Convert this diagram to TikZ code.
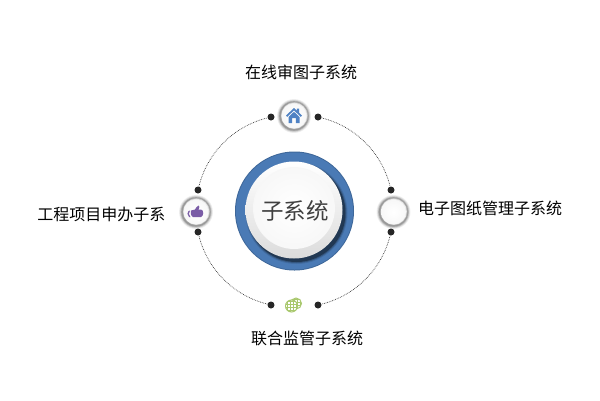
\documentclass[tikz,border=0pt]{standalone}
\usepackage{fontspec}
\setmainfont{Noto Sans CJK SC}
\definecolor{ringblue}{HTML}{4A7AB5}
\definecolor{homeblue}{HTML}{4F82C4}
\definecolor{thumbp}{HTML}{7A5CA6}
\definecolor{globeg}{HTML}{A9C86E}
\tikzset{
  lbl/.style={inner sep=0pt,font=\fontsize{16}{17}\selectfont,text=black},
  dot/.style={circle,fill=black!85,minimum size=7pt,inner sep=0pt},
  link/.style={densely dotted,draw=black!80,line width=.7pt},
  hub/.style={circle,minimum size=27pt,inner sep=0pt},
}
\newcommand{\halo}[2]{%
  \fill[black!6] (#1,#2) circle[radius=17];
  \fill[black!14] (#1,#2) circle[radius=16.2];
  \fill[black!28] (#1,#2) circle[radius=15.4];
  \fill[black!40] (#1,#2) circle[radius=14.6];
  \fill[black!30] (#1+.4,#2-.4) circle[radius=13.6];
  \fill[black!8] (#1+.3,#2-.3) circle[radius=13];
  \shade[inner color=white,outer color=black!3] (#1,#2) circle[radius=12.4];
}
\begin{document}
\begin{tikzpicture}[x=1pt,y=-1pt]
\useasboundingbox (0,0) rectangle (600,400);
% centre
\fill[ringblue!85!black] (294.5,211) circle[radius=59.5];
\fill[ringblue] (294.5,211) circle[radius=58.5];
\foreach \r/\o in {51/.1,50/.2,49/.35}{
  \fill[black,opacity=\o] (296.5,213) circle[radius=\r];
}
\shade[top color=white,bottom color=black!14] (294,210) circle[radius=48.5];
\shade[inner color=white,outer color=white!97!black] (294,208) circle[radius=41];
\node[inner sep=0pt,font=\fontsize{22.5}{24}\selectfont,text=black!75] (centre) at (295,211) {子系统};
% hubs
\halo{294}{116}
\halo{196}{212}
\halo{393.5}{212}
\node[hub] (top) at (294,116) {};
\node[hub] (left) at (196,212) {};
\node[hub] (right) at (393.5,212) {};
\node[hub] (bottom) at (293,305) {};
% dots
\node[dot] (t1) at (271,117) {};
\node[dot] (t2) at (318,117) {};
\node[dot] (r1) at (391,190) {};
\node[dot] (r2) at (391,232) {};
\node[dot] (b2) at (318,305) {};
\node[dot] (b1) at (271,305) {};
\node[dot] (l2) at (198,232) {};
\node[dot] (l1) at (198,190) {};
% arcs
\draw[link] (t2) to[bend left=31,looseness=.92] (r1);
\draw[link] (r2) to[bend left=31,looseness=.92] (b2);
\draw[link] (b1) to[bend left=31,looseness=.92] (l2);
\draw[link] (l1) to[bend left=31,looseness=.92] (t1);
% house icon
\begin{scope}[shift={(294,116)}]
  \fill[homeblue] (-8,-0.5) -- (0,-8) -- (2.8,-5.4) -- (2.8,-7.5) -- (5,-7.5) -- (5,-3.3) -- (8,-0.5) -- (6.8,.8) -- (0,-5.6) -- (-6.8,.8) -- cycle;
  \fill[homeblue] (-5.5,1) -- (0,-4.2) -- (5.5,1) -- (5.5,7) -- (1.8,7) -- (1.8,2.2) -- (-1.8,2.2) -- (-1.8,7) -- (-5.5,7) -- cycle;
\end{scope}
% thumb icon
\begin{scope}[shift={(196,212)}]
  \fill[thumbp] (-7.5,-1) .. controls (-9,0.5) and (-9,3) .. (-7,5) -- (-5.5,5) .. controls (-7.5,3) and (-7.5,1) .. (-6,-1.5) -- cycle;
  \fill[thumbp] (-5,-1.5) -- (-1,-2.5) .. controls (0,-4) and (1,-6) .. (2.5,-6.5) .. controls (4,-6.5) and (3.5,-4) .. (2.5,-2.5) -- (5,-2.5) .. controls (8,-2) and (8,4) .. (5,5) -- (-3,5) .. controls (-5.5,4) and (-5.5,0) .. (-5,-1.5) -- cycle;
\end{scope}
% globe icon
\begin{scope}[shift={(293,305)}]
  \foreach \cx/\cy/\r in {3/-1.5/5.5,-1.5/1/6}{
    \begin{scope}
      \clip (\cx,\cy) circle[radius=\r];
      \fill[white] (\cx,\cy) circle[radius=\r];
      \foreach \d in {-4.5,-1.5,1.5,4.5}{
        \draw[globeg,line width=.7pt] (\cx+\d,\cy-8) -- (\cx+\d,\cy+8);
        \draw[globeg,line width=.7pt] (\cx-8,\cy+\d) -- (\cx+8,\cy+\d);
      }
    \end{scope}
    \draw[globeg,line width=1pt] (\cx,\cy) circle[radius=\r];
  }
\end{scope}
% labels
\node[lbl] (ltop) at (301,72) {在线审图子系统};
\node[lbl] (lleft) at (101.5,214) {工程项目申办子系};
\node[lbl] (lright) at (490,208) {电子图纸管理子系统};
\node[lbl] (lbottom) at (307,338) {联合监管子系统};
\end{tikzpicture}
\end{document}
